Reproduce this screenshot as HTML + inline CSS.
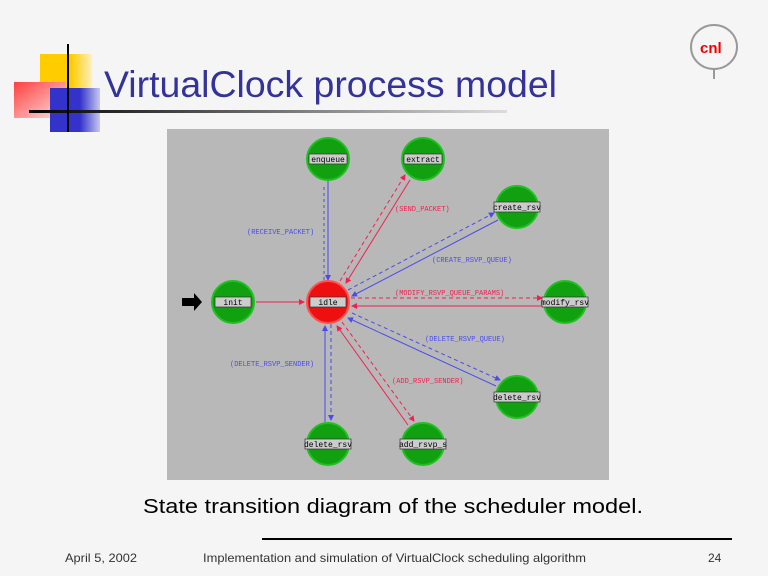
<!DOCTYPE html>
<html><head><meta charset="utf-8"><style>
body{margin:0;width:768px;height:576px;background:#f5f5f5;overflow:hidden;font-family:"Liberation Sans",sans-serif;position:relative}
</style></head><body>
<svg width="768" height="576" style="position:absolute;left:0;top:0">
<defs>
<linearGradient id="ln" x1="0" x2="1"><stop offset="0" stop-color="#000"/><stop offset="1" stop-color="#ddd"/></linearGradient>
<linearGradient id="rd" x1="0" y1="0" x2="1" y2="1"><stop offset="0" stop-color="#ff4040"/><stop offset="1" stop-color="#ffe0e0"/></linearGradient>
<linearGradient id="bl" x1="0" x2="1"><stop offset="0.6" stop-color="#3333cc"/><stop offset="1" stop-color="#c8c8f0"/></linearGradient>
<linearGradient id="yl" x1="0" x2="1"><stop offset="0.6" stop-color="#ffcc00"/><stop offset="1" stop-color="#fff0c0"/></linearGradient>
<marker id="ab" markerWidth="6" markerHeight="6" refX="5" refY="3" orient="auto"><path d="M0,0L6,3L0,6z" fill="#4a4af0"/></marker>
<marker id="ar" markerWidth="6" markerHeight="6" refX="5" refY="3" orient="auto"><path d="M0,0L6,3L0,6z" fill="#f02050"/></marker>
</defs>
<rect x="40" y="54" width="52" height="50" fill="url(#yl)"/>
<rect x="14" y="82" width="52" height="36" fill="url(#rd)"/>
<rect x="50" y="88" width="50" height="44" fill="url(#bl)"/>
<rect x="29" y="110" width="478" height="3" fill="url(#ln)"/>
<rect x="67" y="44" width="2" height="88" fill="#000"/>
<text x="104" y="97" font-size="37" fill="#333399" textLength="453" lengthAdjust="spacingAndGlyphs">VirtualClock process model</text>
<ellipse cx="714" cy="47" rx="23" ry="22" fill="none" stroke="#999" stroke-width="2"/>
<text x="700" y="53" font-size="15" font-weight="bold" fill="#e00">cnl</text>
<rect x="713" y="69" width="2" height="10" fill="#999"/>
<rect x="167" y="129" width="442" height="351" fill="#b8b8b8"/>
<g stroke-width="1" fill="none">
<line x1="328" y1="181" x2="328" y2="280" stroke="#4a4af0" marker-end="url(#ab)"/>
<line x1="324" y1="280" x2="324" y2="184" stroke="#4a4af0" stroke-dasharray="3,3"/>
<line x1="340" y1="281" x2="405" y2="175" stroke="#f02050" stroke-dasharray="4,3" marker-end="url(#ar)"/>
<line x1="410" y1="180" x2="346" y2="283" stroke="#f02050" marker-end="url(#ar)"/>
<line x1="348" y1="290" x2="494" y2="213" stroke="#4a4af0" stroke-dasharray="4,3" marker-end="url(#ab)"/>
<line x1="498" y1="220" x2="352" y2="296" stroke="#4a4af0" marker-end="url(#ab)"/>
<line x1="351" y1="298" x2="542" y2="298" stroke="#f02050" stroke-dasharray="4,3" marker-end="url(#ar)"/>
<line x1="542" y1="306" x2="352" y2="306" stroke="#f02050" marker-end="url(#ar)"/>
<line x1="352" y1="313" x2="500" y2="380" stroke="#4a4af0" stroke-dasharray="4,3" marker-end="url(#ab)"/>
<line x1="496" y1="386" x2="348" y2="318" stroke="#4a4af0" marker-end="url(#ab)"/>
<line x1="342" y1="322" x2="414" y2="421" stroke="#f02050" stroke-dasharray="4,3" marker-end="url(#ar)"/>
<line x1="408" y1="425" x2="337" y2="326" stroke="#f02050" marker-end="url(#ar)"/>
<line x1="331" y1="324" x2="331" y2="420" stroke="#4a4af0" stroke-dasharray="4,3" marker-end="url(#ab)"/>
<line x1="325" y1="422" x2="325" y2="326" stroke="#4a4af0" marker-end="url(#ab)"/>
<line x1="256" y1="302" x2="304" y2="302" stroke="#f02050" marker-end="url(#ar)"/>
</g>
<path d="M182,298h12v-5l8,9l-8,9v-5h-12z" fill="#000"/>
<g font-family="Liberation Mono" font-size="7">
<text x="247" y="234" fill="#4a4af0">(RECEIVE_PACKET)</text>
<text x="395" y="211" fill="#f02050">(SEND_PACKET)</text>
<text x="432" y="262" fill="#4a4af0">(CREATE_RSVP_QUEUE)</text>
<text x="395" y="295" fill="#f02050">(MODIFY_RSVP_QUEUE_PARAMS)</text>
<text x="425" y="341" fill="#4a4af0">(DELETE_RSVP_QUEUE)</text>
<text x="230" y="366" fill="#4a4af0">(DELETE_RSVP_SENDER)</text>
<text x="392" y="383" fill="#f02050">(ADD_RSVP_SENDER)</text>
</g>
<g font-family="Liberation Mono" font-size="8" text-anchor="middle">
<g><circle cx="328" cy="159" r="21" fill="#10a010" stroke="#20c020" stroke-width="2"/><rect x="309" y="154" width="38" height="10" fill="#ccc" stroke="#333" stroke-width="0.7"/><text x="328" y="162">enqueue</text></g>
<g><circle cx="423" cy="159" r="21" fill="#10a010" stroke="#20c020" stroke-width="2"/><rect x="404" y="154" width="38" height="10" fill="#ccc" stroke="#333" stroke-width="0.7"/><text x="423" y="162">extract</text></g>
<g><circle cx="517" cy="207" r="21" fill="#10a010" stroke="#20c020" stroke-width="2"/><rect x="494" y="202" width="46" height="10" fill="#ccc" stroke="#333" stroke-width="0.7"/><text x="517" y="210">create_rsv</text></g>
<g><circle cx="233" cy="302" r="21" fill="#10a010" stroke="#20c020" stroke-width="2"/><rect x="215" y="297" width="36" height="10" fill="#ccc" stroke="#333" stroke-width="0.7"/><text x="233" y="305">init</text></g>
<g><circle cx="328" cy="302" r="21" fill="#ee1010" stroke="#ff5050" stroke-width="2"/><rect x="310" y="297" width="36" height="10" fill="#ccc" stroke="#333" stroke-width="0.7"/><text x="328" y="305">idle</text></g>
<g><circle cx="565" cy="302" r="21" fill="#10a010" stroke="#20c020" stroke-width="2"/><rect x="542" y="297" width="46" height="10" fill="#ccc" stroke="#333" stroke-width="0.7"/><text x="565" y="305">modify_rsv</text></g>
<g><circle cx="517" cy="397" r="21" fill="#10a010" stroke="#20c020" stroke-width="2"/><rect x="494" y="392" width="46" height="10" fill="#ccc" stroke="#333" stroke-width="0.7"/><text x="517" y="400">delete_rsv</text></g>
<g><circle cx="328" cy="444" r="21" fill="#10a010" stroke="#20c020" stroke-width="2"/><rect x="305" y="439" width="46" height="10" fill="#ccc" stroke="#333" stroke-width="0.7"/><text x="328" y="447">delete_rsv</text></g>
<g><circle cx="423" cy="444" r="21" fill="#10a010" stroke="#20c020" stroke-width="2"/><rect x="400" y="439" width="46" height="10" fill="#ccc" stroke="#333" stroke-width="0.7"/><text x="423" y="447">add_rsvp_s</text></g>
</g>
<text x="143" y="513" font-size="20" fill="#000" textLength="500" lengthAdjust="spacingAndGlyphs">State transition diagram of the scheduler model.</text>
<rect x="262" y="538" width="470" height="2" fill="#000"/>
<g font-size="12" fill="#333">
<text x="65" y="562" textLength="72" lengthAdjust="spacingAndGlyphs">April 5, 2002</text>
<text x="203" y="562" textLength="383" lengthAdjust="spacingAndGlyphs">Implementation and simulation of VirtualClock scheduling algorithm</text>
<text x="708" y="562">24</text>
</g>
</svg>
</body></html>
